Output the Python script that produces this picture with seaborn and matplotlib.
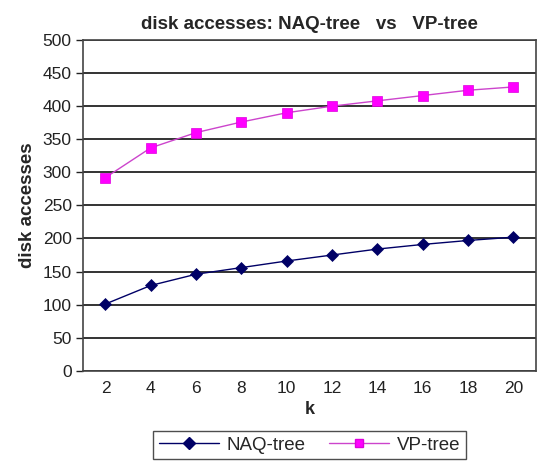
import matplotlib
matplotlib.use("Agg")
import matplotlib.pyplot as plt
import seaborn as sns
import pandas as pd
from matplotlib.ticker import FixedLocator

k_values = [2, 4, 6, 8, 10, 12, 14, 16, 18, 20]
naq_tree = [101, 129, 146, 156, 166, 175, 184, 191, 197, 202]
vp_tree = [292, 337, 360, 376, 390, 400, 408, 416, 424, 429]
series_names = ["NAQ-tree", "VP-tree"]
y_ticks = [0, 50, 100, 150, 200, 250, 300, 350, 400, 450, 500]

df = pd.DataFrame({
    "k": k_values * 2,
    "disk accesses": naq_tree + vp_tree,
    "index": [series_names[0]] * len(k_values) + [series_names[1]] * len(k_values),
})

sns.set_theme(style="white")
plt.rcParams["font.family"] = ["Liberation Sans", "DejaVu Sans"]

fig = plt.figure(figsize=(5.41, 4.70), dpi=100)
ax = fig.add_axes([0.153, 0.211, 0.838, 0.704])

palette = {"NAQ-tree": "#000066", "VP-tree": "#FF00FF"}
markers = {"NAQ-tree": "D", "VP-tree": "s"}
sns.lineplot(data=df, x="k", y="disk accesses", hue="index", style="index",
             palette=palette, markers=markers, dashes=False, linewidth=1.0,
             markersize=6.5, markeredgewidth=0.5, ax=ax, legend=False)
for line, name in zip(ax.lines, series_names):
    line.set_markeredgecolor(palette[name])
ax.lines[1].set_color("#CC44CC")
ax.lines[1].set_markerfacecolor("#FF00FF")
ax.lines[1].set_markeredgecolor("#DD00DD")

ax.set_xlim(1, 21)
ax.set_ylim(0, 500)
ax.set_yticks(y_ticks)
ax.set_xticks(k_values)
ax.xaxis.set_minor_locator(FixedLocator(list(range(1, 22, 2))))
ax.tick_params(axis="x", which="major", length=0, pad=7, labelsize=12.5, colors="#222222")
ax.tick_params(axis="x", which="minor", length=5, width=1, direction="inout", color="#333333")
ax.tick_params(axis="y", which="major", length=5, width=1, direction="out", pad=3,
               labelsize=12.5, colors="#222222", left=True)

ax.yaxis.grid(True, color="#111111", linewidth=1.2)
ax.set_axisbelow(True)
for side in ["left", "right", "top", "bottom"]:
    ax.spines[side].set_visible(True)
    ax.spines[side].set_color("#444444")
    ax.spines[side].set_linewidth(1.2)

ax.set_xlabel("k", fontsize=13, fontweight="bold", labelpad=4)
ax.set_ylabel("disk accesses", fontsize=13.5, fontweight="bold", labelpad=5)
ax.set_title("disk accesses: NAQ-tree   vs   VP-tree", fontsize=13.5,
             fontweight="bold", pad=8)

handles = [
    plt.Line2D([], [], color="#000066", marker="D", markersize=6, linewidth=1.0,
               markeredgecolor="#000066"),
    plt.Line2D([], [], color="#CC44CC", marker="s", markersize=6, linewidth=1.0,
               markerfacecolor="#FF00FF", markeredgecolor="#DD00DD"),
]
leg = fig.legend(handles, series_names, loc="lower center", bbox_to_anchor=(0.572, 0.003),
                 ncol=2, frameon=True, fancybox=False, fontsize=13.5, handlelength=3.2,
                 columnspacing=1.3, handletextpad=0.4, borderpad=0.3)
leg.get_frame().set_edgecolor("#222222")
leg.get_frame().set_linewidth(1.0)

fig.savefig("out.png", dpi=100)
